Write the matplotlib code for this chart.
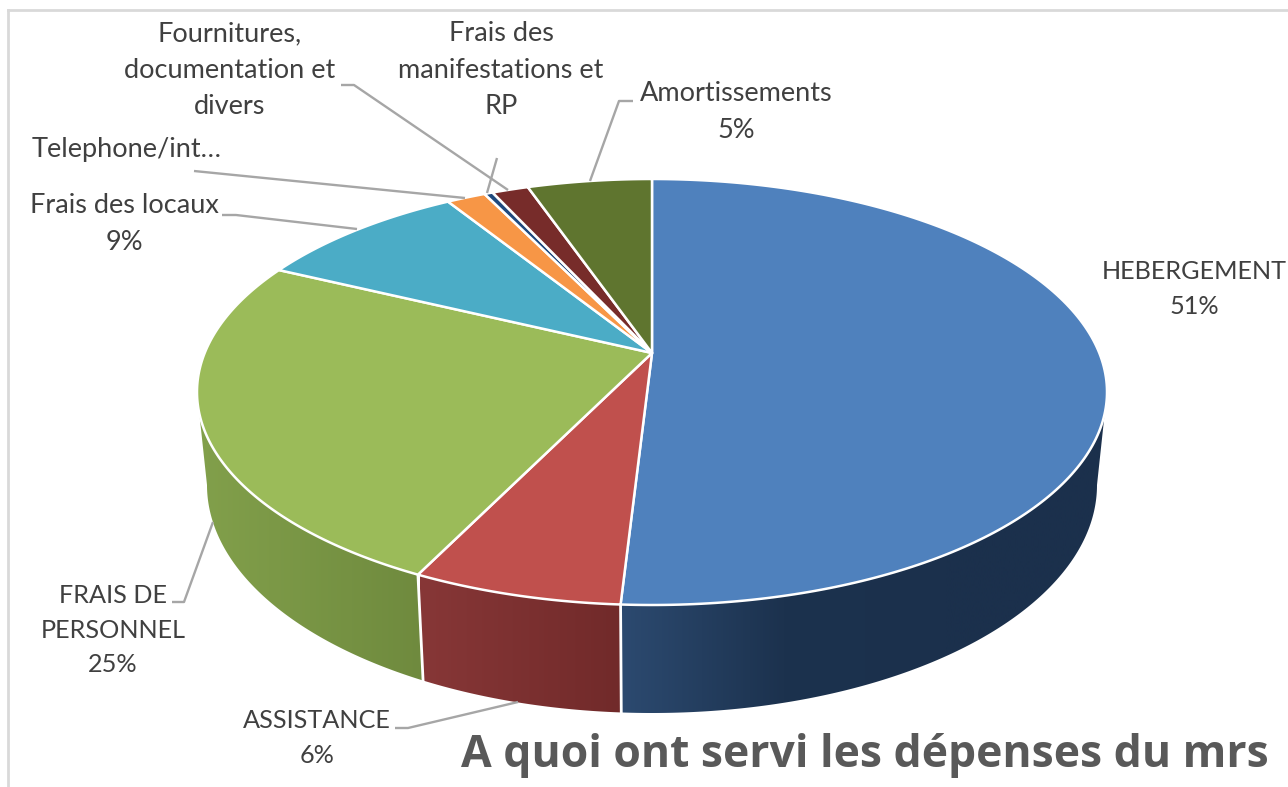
"""3D pie of the mrs spending, drawn by hand since matplotlib has no tilted pie."""
import matplotlib
matplotlib.use("Agg")
import matplotlib.pyplot as plt
import numpy as np
from matplotlib.colors import LinearSegmentedColormap
from matplotlib.patches import Polygon

# ---- data ----
slice_names = ["HEBERGEMENT", "ASSISTANCE", "FRAIS DE PERSONNEL", "Frais des locaux",
               "Telephone/internet", "Fournitures", "Frais des manifestations", "Amortissements"]
# angular share of each slice on the picture (percent of the drawn ellipse)
slice_shares = [51.1, 7.5, 26.1, 7.9, 1.4, 0.3, 1.3, 4.4]
title_text = "A quoi ont servi les dépenses du mrs"
label_amort = "Amortissements\n5%"
label_heberg = "HEBERGEMENT\n51%"
label_assist = "ASSISTANCE\n6%"
label_perso = "FRAIS DE\nPERSONNEL\n25%"
label_locaux = "Frais des locaux\n9%"
label_tel = "Telephone/int…"
label_fourn = "Fournitures,\ndocumentation et\ndivers"
label_manif = "Frais des\nmanifestations et\nRP"

# ---- styles ----
top_colors = ["#4f81bd", "#c0504d", "#9bbb59", "#4bacc6", "#f79646", "#1f497d", "#772c2a", "#5f752f"]
text_color = "#404040"
leader_color = "#a6a6a6"

# geometry of the tilted disc, in pixels
APEX = (652, 353)
TOP = dict(cx=652, cy=392, rx=455, ry=213)
BOT = dict(cx=652, cy=485, rx=445, ry=228)


def on_ellipse(e, t_deg):
    t = np.radians(t_deg)
    return np.column_stack([e["cx"] + e["rx"] * np.sin(t), e["cy"] - e["ry"] * np.cos(t)])


def draw_side(ax, t0, t1, colors, x0, x1):
    ts = np.linspace(t0, t1, 200)
    pts = np.vstack([on_ellipse(TOP, ts), on_ellipse(BOT, ts[::-1])])
    poly = Polygon(pts, closed=True, facecolor="none", edgecolor="none")
    ax.add_patch(poly)
    cmap = LinearSegmentedColormap.from_list("side", colors)
    grad = np.linspace(0, 1, 256).reshape(1, -1)
    im = ax.imshow(grad, cmap=cmap, extent=[x0, x1, 790, 300], aspect="auto", zorder=1,
                   interpolation="bilinear")
    im.set_clip_path(poly)


fig = plt.figure(figsize=(12.88, 7.87), dpi=100)
ax = fig.add_axes([0, 0, 1, 1])
ax.set_xlim(0, 1288)
ax.set_ylim(787, 0)
ax.axis("off")

# chart frame, only top and left are in the crop
ax.plot([8, 8], [787, 10], color="#d9d9d9", lw=2, zorder=0)
ax.plot([8, 1288], [10, 10], color="#d9d9d9", lw=2, zorder=0)

edges = np.concatenate([[0], np.cumsum(slice_shares)]) * 3.6

# ---- side walls (front slices only) ----
draw_side(ax, 90, edges[1], ["#2c4a70", "#1c324e", "#1b304c", "#1b304c"], 620, 1110)
draw_side(ax, edges[1], edges[2], ["#873737", "#712a2a"], 420, 622)
draw_side(ax, edges[2], 270, ["#82a04b", "#6f8a3e"], 197, 424)
ax.set_xlim(0, 1288)
ax.set_ylim(787, 0)
for t in edges[1:3]:
    seam = np.vstack([on_ellipse(TOP, t), on_ellipse(BOT, t)])
    ax.plot(seam[:, 0], seam[:, 1], color="white", lw=2, zorder=2)

# ---- top face ----
for i, col in enumerate(top_colors):
    ts = np.linspace(edges[i], edges[i + 1], 200)
    pts = np.vstack([[APEX], on_ellipse(TOP, ts)])
    ax.add_patch(Polygon(pts, closed=True, facecolor=col, edgecolor="white", lw=1.8,
                         joinstyle="round", zorder=3))

# ---- leader lines ----
leaders = [
    [(633, 101), (619, 101), (590, 181)],
    [(497, 158), (487, 193)],
    [(341, 85), (354, 85), (508, 190)],
    [(194, 171), (465, 198)],
    [(222, 215), (236, 215), (357, 229)],
    [(172, 602), (184, 602), (213, 522)],
    [(395, 728), (408, 728), (518, 702)],
]
for pts in leaders:
    xs, ys = zip(*pts)
    ax.plot(xs, ys, color=leader_color, lw=1.7, zorder=4, solid_capstyle="butt")

# ---- labels ----
lower = dict(family="Lato", fontsize=19.5, color=text_color, ha="center", va="center",
             linespacing=1.56, zorder=5)
upper = dict(family="Lato", fontsize=18.2, color=text_color, ha="center", va="center",
             linespacing=1.61, zorder=5)
ax.text(736, 112, label_amort, **lower)
ax.text(1194, 289, label_heberg, **upper)
ax.text(317, 738, label_assist, **upper)
ax.text(113, 630, label_perso, **upper)
ax.text(124, 224, label_locaux, **lower)
ax.text(127, 149, label_tel, **lower)
ax.text(230, 70, label_fourn, **lower)
ax.text(501, 70, label_manif, **lower)

ax.text(461, 756, title_text, family="Open Sans", fontsize=32, fontweight="bold", color="#595959",
        ha="left", va="center", zorder=5)

fig.savefig("out.png", dpi=100)
